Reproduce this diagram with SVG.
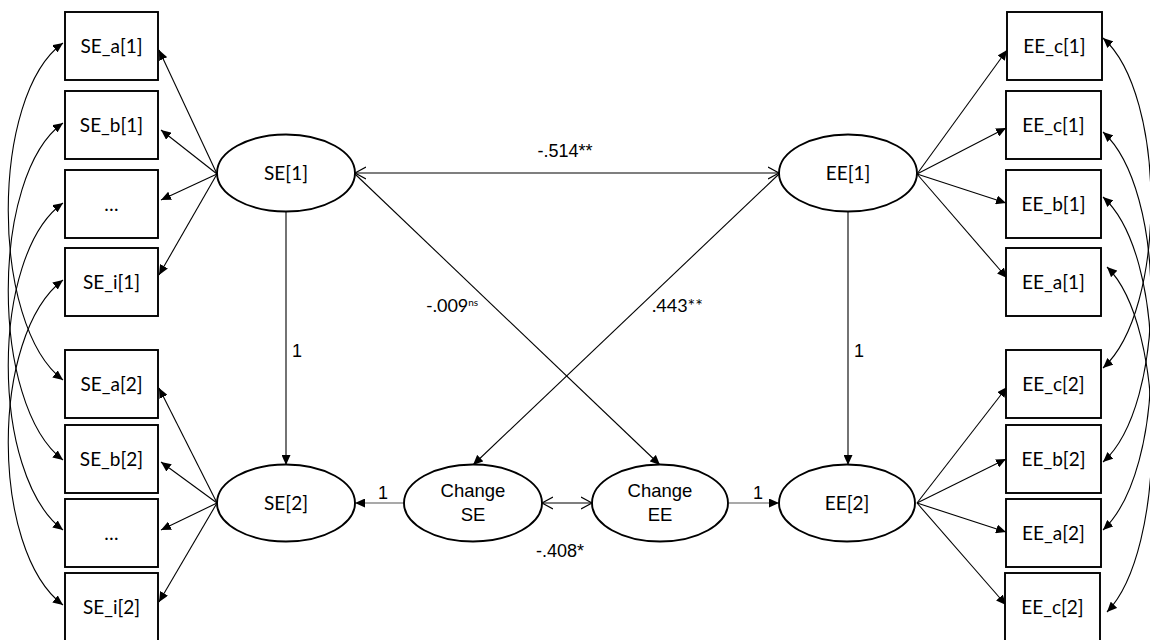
<svg xmlns="http://www.w3.org/2000/svg" width="1150" height="640" viewBox="0 0 1150 640">
  <style>
    .box { fill: #fff; stroke: #000; stroke-width: 1.9; }
    .lat { fill: #fff; stroke: #000; stroke-width: 1.9; }
    .lbl { font-family: Lato, "Liberation Sans", sans-serif; font-size: 19px; fill: #000; text-anchor: middle; }
    .arial { font-family: "Liberation Sans", Arial, sans-serif; font-size: 18.5px; fill: #000; text-anchor: middle; }
    .coef { font-family: "Liberation Sans", Arial, sans-serif; font-size: 18px; fill: #000; }
    .coefc { font-family: Lato, "Liberation Sans", sans-serif; font-size: 18px; fill: #000; }
    .ln { fill: none; stroke: #000; stroke-width: 1.1; }
    .gl { fill: none; stroke: #555; stroke-width: 1.1; }
    .fwd { marker-end: url(#tri); }
    .both { marker-start: url(#tri); marker-end: url(#tri); }
    .open2 { marker-start: url(#vee); marker-end: url(#vee); }
  </style>
  <defs>
    <marker id="tri" markerUnits="userSpaceOnUse" markerWidth="11" markerHeight="9" refX="10" refY="4.5" orient="auto-start-reverse">
      <path d="M0,0 L10,4.5 L0,9 z" fill="#000"/>
    </marker>
    <marker id="vee" markerUnits="userSpaceOnUse" markerWidth="13" markerHeight="14" refX="11" refY="7" orient="auto-start-reverse">
      <path d="M0,1 L11,7 L0,13" fill="none" stroke="#000" stroke-width="1.2"/>
    </marker>
  </defs>

  <!-- connectors -->
  <g id="connectors">
    <!-- SE[1] loadings -->
    <line class="ln fwd" x1="217" y1="174" x2="159" y2="50"/>
    <line class="ln fwd" x1="217" y1="174" x2="161" y2="130"/>
    <line class="ln fwd" x1="217" y1="174" x2="161" y2="200"/>
    <line class="ln fwd" x1="217" y1="174" x2="159" y2="275"/>
    <!-- SE[2] loadings -->
    <line class="ln fwd" x1="217" y1="503" x2="159" y2="388"/>
    <line class="ln fwd" x1="217" y1="503" x2="161" y2="462"/>
    <line class="ln fwd" x1="217" y1="503" x2="161" y2="530"/>
    <line class="ln fwd" x1="217" y1="503" x2="159" y2="602"/>
    <!-- EE[1] loadings -->
    <line class="ln fwd" x1="917" y1="174" x2="1007" y2="50"/>
    <line class="ln fwd" x1="917" y1="174" x2="1006" y2="128"/>
    <line class="ln fwd" x1="917" y1="174" x2="1006" y2="203"/>
    <line class="ln fwd" x1="917" y1="174" x2="1007" y2="278"/>
    <!-- EE[2] loadings -->
    <line class="ln fwd" x1="917" y1="503" x2="1007" y2="387"/>
    <line class="ln fwd" x1="917" y1="503" x2="1006" y2="459"/>
    <line class="ln fwd" x1="917" y1="503" x2="1006" y2="532"/>
    <line class="ln fwd" x1="917" y1="503" x2="1006" y2="605"/>

    <!-- residual covariances, left column -->
    <path class="ln both" d="M63,43 C-10,95 -10,325 63,380"/>
    <path class="ln both" d="M63,123 C-10,175 -10,405 63,460"/>
    <path class="ln both" d="M63,203 C-10,255 -10,475 63,530"/>
    <path class="ln both" d="M63,280 C-10,335 -10,550 63,605"/>
    <!-- residual covariances, right column -->
    <path class="ln both" d="M1103,38 C1167,95 1167,310 1103,368"/>
    <path class="ln both" d="M1103,132 C1167,190 1167,405 1103,462"/>
    <path class="ln both" d="M1103,197 C1167,255 1167,470 1103,530"/>
    <path class="ln both" d="M1107,267 C1167,325 1167,550 1107,612"/>

    <!-- structural paths -->
    <line class="ln open2" x1="355" y1="173" x2="779" y2="173"/>
    <line class="ln fwd" x1="286" y1="212" x2="286" y2="465"/>
    <line class="ln fwd" x1="848" y1="212" x2="848" y2="465"/>
    <line class="ln fwd" x1="355" y1="174" x2="660" y2="465"/>
    <line class="ln fwd" x1="779" y1="174" x2="473" y2="465"/>
    <line class="gl fwd" x1="404" y1="503" x2="355" y2="503"/>
    <line class="gl fwd" x1="729" y1="503" x2="779" y2="503"/>
    <line class="ln open2" x1="542" y1="503" x2="592" y2="503"/>

    <!-- path coefficients -->
    <text class="coef" x="565" y="157" text-anchor="middle">-.514**</text>
    <text class="coefc" x="426" y="312">-.009<tspan font-size="10" dy="-6">ns</tspan></text>
    <text class="coefc" x="652" y="312">.443**</text>
    <text class="coef" x="292" y="357">1</text>
    <text class="coef" x="854" y="357">1</text>
    <text class="coef" x="378" y="499">1</text>
    <text class="coef" x="753" y="499">1</text>
    <text class="coef" x="560" y="557" text-anchor="middle">-.408*</text>
  </g>

  <!-- indicators, SE time 1 -->
  <g id="SE_a1"><rect class="box" x="65" y="12" width="93" height="68"/><text class="lbl" x="111.5" y="53">SE_a[1]</text></g>
  <g id="SE_b1"><rect class="box" x="65" y="91" width="93" height="68"/><text class="lbl" x="111.5" y="132">SE_b[1]</text></g>
  <g id="SE_x1"><rect class="box" x="65" y="170" width="93" height="68"/><text class="lbl" x="111.5" y="211">…</text></g>
  <g id="SE_i1"><rect class="box" x="65" y="248" width="93" height="68"/><text class="lbl" x="111.5" y="289">SE_i[1]</text></g>
  <!-- indicators, SE time 2 -->
  <g id="SE_a2"><rect class="box" x="65" y="350" width="93" height="68"/><text class="lbl" x="111.5" y="391">SE_a[2]</text></g>
  <g id="SE_b2"><rect class="box" x="65" y="425" width="93" height="68"/><text class="lbl" x="111.5" y="466">SE_b[2]</text></g>
  <g id="SE_x2"><rect class="box" x="65" y="499" width="93" height="68"/><text class="lbl" x="111.5" y="540">…</text></g>
  <g id="SE_i2"><rect class="box" x="65" y="573" width="93" height="70"/><text class="lbl" x="111.5" y="614">SE_i[2]</text></g>

  <!-- indicators, EE time 1 -->
  <g id="EE_c1a"><rect class="box" x="1007" y="12" width="95" height="68"/><text class="lbl" x="1054.5" y="53">EE_c[1]</text></g>
  <g id="EE_c1b"><rect class="box" x="1006" y="91" width="95" height="68"/><text class="lbl" x="1053.5" y="132">EE_c[1]</text></g>
  <g id="EE_b1"><rect class="box" x="1006" y="170" width="95" height="68"/><text class="lbl" x="1053.5" y="211">EE_b[1]</text></g>
  <g id="EE_a1"><rect class="box" x="1006" y="248" width="95" height="68"/><text class="lbl" x="1053.5" y="289">EE_a[1]</text></g>
  <!-- indicators, EE time 2 -->
  <g id="EE_c2a"><rect class="box" x="1006" y="350" width="95" height="68"/><text class="lbl" x="1053.5" y="391">EE_c[2]</text></g>
  <g id="EE_b2"><rect class="box" x="1006" y="425" width="95" height="68"/><text class="lbl" x="1053.5" y="466">EE_b[2]</text></g>
  <g id="EE_a2"><rect class="box" x="1006" y="499" width="95" height="68"/><text class="lbl" x="1053.5" y="540">EE_a[2]</text></g>
  <g id="EE_c2b"><rect class="box" x="1005" y="573" width="95" height="70"/><text class="lbl" x="1052.5" y="614">EE_c[2]</text></g>

  <!-- latent factors -->
  <g id="SE1"><ellipse class="lat" cx="286" cy="173" rx="69" ry="38.5"/><text class="lbl" x="286" y="180">SE[1]</text></g>
  <g id="EE1"><ellipse class="lat" cx="848" cy="173" rx="69" ry="38.5"/><text class="lbl" x="848" y="180">EE[1]</text></g>
  <g id="SE2"><ellipse class="lat" cx="286" cy="503" rx="69" ry="38.5"/><text class="lbl" x="286" y="510">SE[2]</text></g>
  <g id="EE2"><ellipse class="lat" cx="847" cy="503" rx="68" ry="38.5"/><text class="lbl" x="847" y="510">EE[2]</text></g>
  <g id="ChangeSE"><ellipse class="lat" cx="473" cy="503" rx="69" ry="38.5"/><text class="arial" x="473" y="497">Change</text><text class="arial" x="473" y="521">SE</text></g>
  <g id="ChangeEE"><ellipse class="lat" cx="660" cy="503" rx="68" ry="38.5"/><text class="arial" x="660" y="497">Change</text><text class="arial" x="660" y="521">EE</text></g>
</svg>
